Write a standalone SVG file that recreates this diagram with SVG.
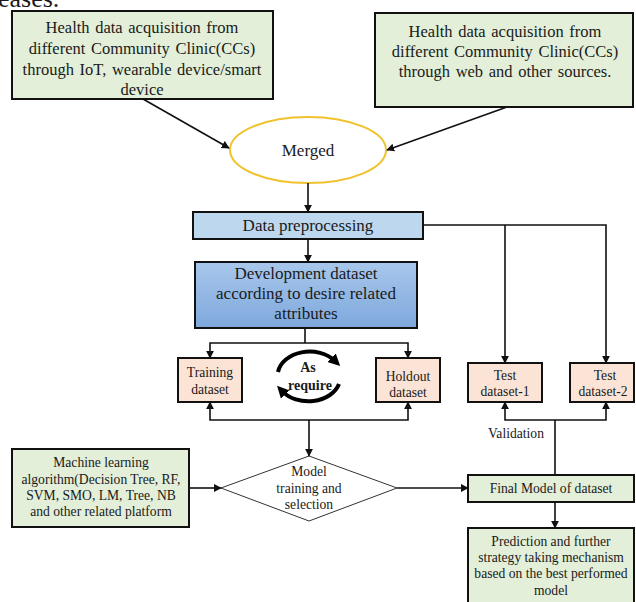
<svg xmlns="http://www.w3.org/2000/svg" width="636" height="602" viewBox="0 0 636 602">
<style>
text{font-family:"Liberation Serif","Times New Roman",serif;fill:#1a1a1a;text-anchor:middle}
.t{font-size:16.5px;word-spacing:1.5px}
.m{font-size:17px}
.s{font-size:13.6px}
.box{stroke:#111;stroke-width:2}
.green{fill:#e3efd9}
.peach{fill:#fbe4d5}
.blue{fill:#bdd7ee}
.ln{fill:none;stroke:#111;stroke-width:1.6}
.arr{marker-end:url(#ah)}
.cyc{fill:none;stroke:#000;stroke-width:4;marker-end:url(#ch)}
</style>
<defs>
<marker id="ah" viewBox="0 0 10 10" refX="9" refY="5" markerWidth="8" markerHeight="8" markerUnits="userSpaceOnUse" orient="auto"><path d="M0,0 L10,5 L0,10 z" fill="#111"/></marker>
<marker id="ch" viewBox="0 0 10 10" refX="4" refY="5" markerWidth="12" markerHeight="12" markerUnits="userSpaceOnUse" orient="auto"><path d="M0,0 L10,5 L0,10 z" fill="#000"/></marker>
<linearGradient id="dg" x1="0" y1="0" x2="0" y2="1"><stop offset="0" stop-color="#a8c7ec"/><stop offset="1" stop-color="#7ea8dc"/></linearGradient>
</defs>
<text x="-2" y="7" style="font-size:26px;text-anchor:start">eases.</text>
<g id="src1"><rect class="box green" x="12" y="11" width="261" height="88"/>
<text class="t" x="142" y="33">Health data acquisition from</text>
<text class="t" x="142" y="54">different Community Clinic(CCs)</text>
<text class="t" x="142" y="75">through IoT, wearable device/smart</text>
<text class="t" x="142" y="95">device</text></g>
<g id="src2"><rect class="box green" x="375" y="13" width="258" height="94"/>
<text class="t" x="505" y="37">Health data acquisition from</text>
<text class="t" x="505" y="57">different Community Clinic(CCs)</text>
<text class="t" x="505" y="77">through web and other sources.</text></g>
<g id="merged"><ellipse cx="308" cy="150" rx="78" ry="33" fill="#fff" stroke="#efc22e" stroke-width="2"/>
<text class="m" x="308" y="156">Merged</text></g>
<g id="preproc"><rect class="box blue" x="193" y="212" width="230" height="27"/>
<text class="m" x="308" y="231">Data preprocessing</text></g>
<g id="devset"><rect class="box" fill="url(#dg)" x="195" y="262" width="222" height="66"/>
<text class="m" x="306" y="279">Development dataset</text>
<text class="m" x="306" y="299">according to desire related</text>
<text class="m" x="306" y="319">attributes</text></g>
<g id="training"><rect class="box peach" x="178" y="358" width="64" height="44"/>
<text class="s" x="210" y="377">Training</text><text class="s" x="210" y="394">dataset</text></g>
<g id="holdout"><rect class="box peach" x="376" y="358" width="64" height="44"/>
<text class="s" x="408" y="381">Holdout</text><text class="s" x="408" y="397">dataset</text></g>
<g id="asrequire">
<path class="cyc" d="M 278 372 A 32 24 0 0 1 335 361"/>
<path class="cyc" d="M 339 384 A 32 24 0 0 1 282 391"/>
<text x="308" y="372" style="font-size:14px;font-weight:bold">As</text>
<text x="310" y="390" style="font-size:14px;font-weight:bold">require</text></g>
<g id="test1"><rect class="box peach" x="468" y="363" width="74" height="39"/>
<text class="s" x="505" y="380">Test</text><text class="s" x="505" y="396">dataset-1</text></g>
<g id="test2"><rect class="box peach" x="570" y="363" width="64" height="39"/>
<text class="s" x="605" y="380">Test</text><text class="s" x="603" y="396">dataset-2</text></g>
<text class="s" x="516" y="438">Validation</text>
<g id="ml"><rect class="box green" x="12" y="449" width="177" height="78"/>
<text class="s" x="101" y="467">Machine learning</text>
<text class="s" x="101" y="484">algorithm(Decision  Tree, RF,</text>
<text class="s" x="101" y="500">SVM, SMO, LM, Tree, NB</text>
<text class="s" x="101" y="516">and other related platform</text></g>
<g id="model"><polygon points="309,456 397,488 309,521 221,488" fill="#fff" stroke="#333" stroke-width="1"/>
<text class="s" x="309" y="476">Model</text>
<text class="s" x="309" y="493">training and</text>
<text class="s" x="309" y="509">selection</text></g>
<g id="final"><rect class="box green" x="468" y="475" width="166" height="27"/>
<text class="s" x="551" y="493">Final Model of dataset</text></g>
<g id="predict"><rect class="box green" x="468" y="528" width="166" height="78"/>
<text class="s" x="551" y="546">Prediction and further</text>
<text class="s" x="551" y="562">strategy taking mechanism</text>
<text class="s" x="551" y="578">based on the best performed</text>
<text class="s" x="551" y="595">model</text></g>
<g id="connectors">
<line class="ln arr" x1="143" y1="99" x2="229" y2="148"/>
<line class="ln arr" x1="507" y1="107" x2="387" y2="150"/>
<line class="ln arr" x1="308" y1="183" x2="308" y2="212"/>
<line class="ln arr" x1="308" y1="239" x2="308" y2="262"/>
<polyline class="ln arr" points="423,225 606,225 606,363"/>
<line class="ln arr" x1="505" y1="225" x2="505" y2="363"/>
<line class="ln" x1="305" y1="328" x2="305" y2="343"/>
<polyline class="ln arr" points="305,343 210,343 210,358"/>
<polyline class="ln arr" points="305,343 408,343 408,358"/>
<polyline class="ln arr" points="309,420 210,420 210,402"/>
<polyline class="ln arr" points="309,420 408,420 408,402"/>
<line class="ln arr" x1="309" y1="420" x2="309" y2="456"/>
<polyline class="ln arr" points="555,420 505,420 505,402"/>
<polyline class="ln arr" points="555,420 606,420 606,402"/>
<line class="ln" x1="555" y1="420" x2="555" y2="475"/>
<line class="ln arr" x1="189" y1="488" x2="221" y2="488"/>
<line class="ln arr" x1="397" y1="488" x2="468" y2="488"/>
<line class="ln arr" x1="555" y1="502" x2="555" y2="528"/>
</g>
</svg>
